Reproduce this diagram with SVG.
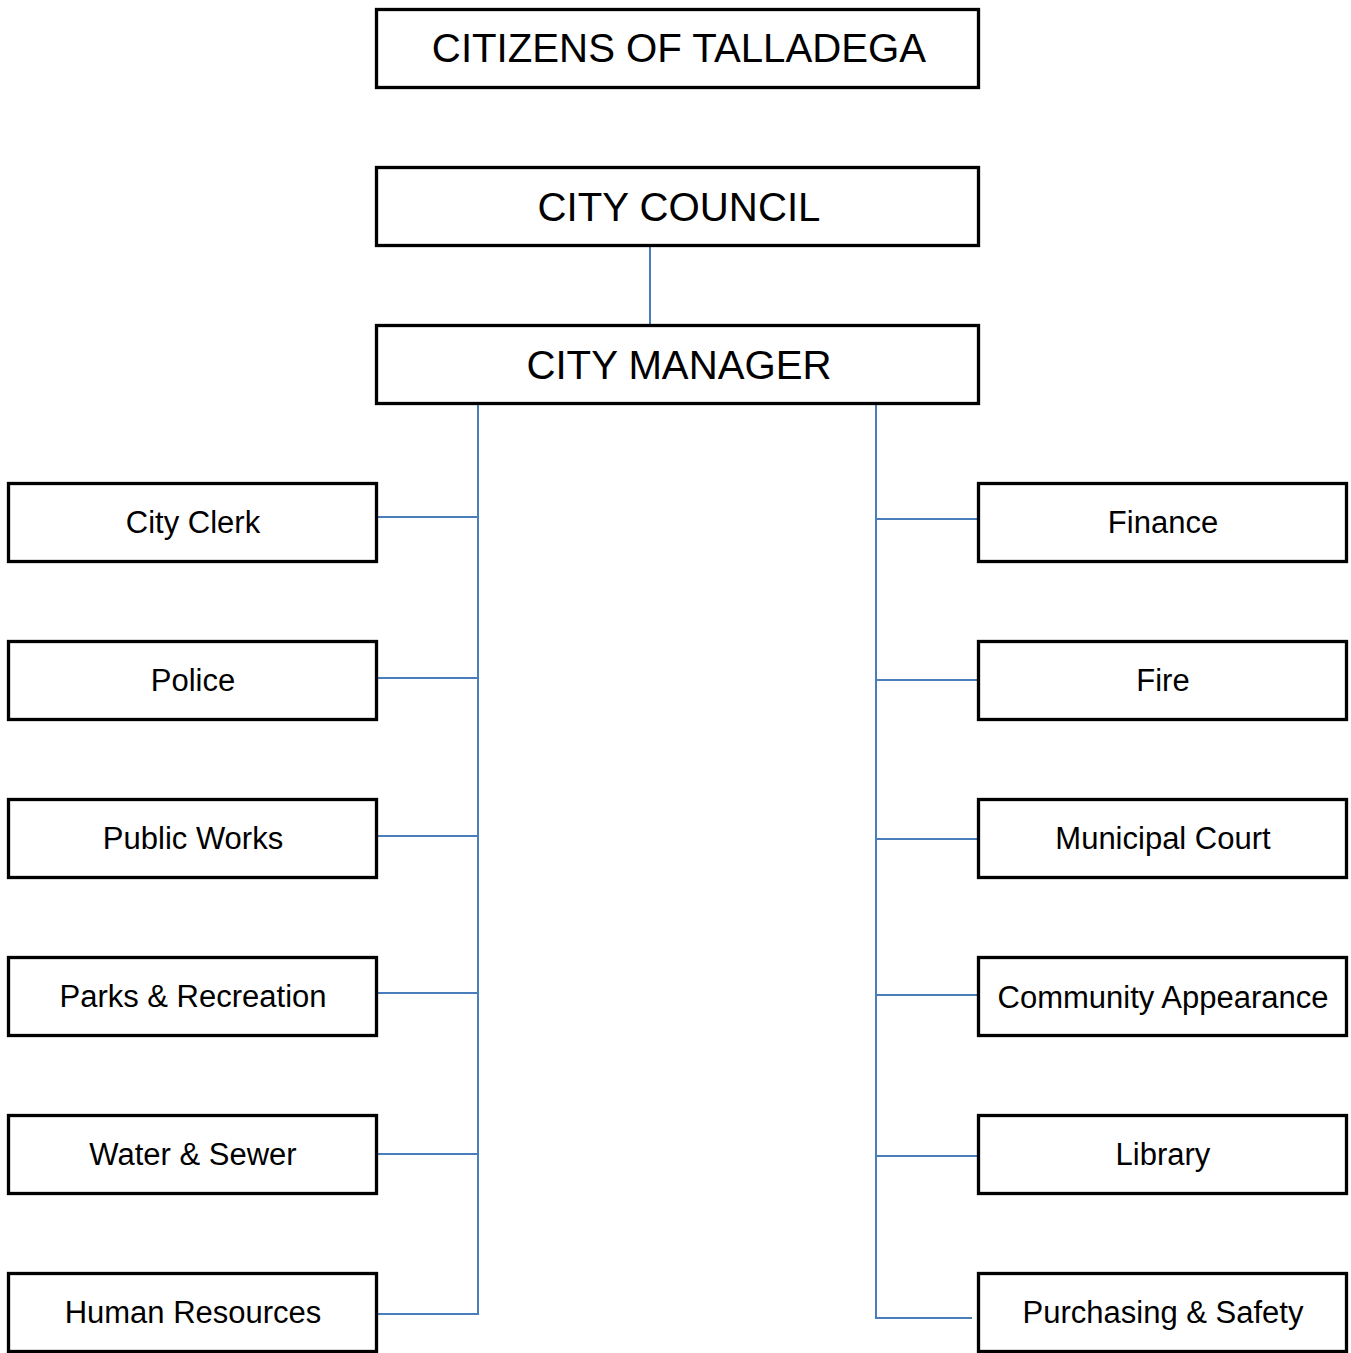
<svg xmlns="http://www.w3.org/2000/svg" width="1351" height="1353" viewBox="0 0 1351 1353">
<style>
.box{fill:#fff;stroke:#000;stroke-width:3.3}
.big{font-family:"Liberation Sans",Arial,sans-serif;font-size:40.2px;text-anchor:middle;fill:#000}
.dep{font-family:"Liberation Sans",Arial,sans-serif;font-size:31px;text-anchor:middle;fill:#000}
.con{fill:none;stroke:#4a7ebb;stroke-width:2}
</style>
<rect width="1351" height="1353" fill="#fff"/>
<g id="connectors">
<line class="con" x1="650" y1="245" x2="650" y2="324"/>
<line class="con" x1="478" y1="404" x2="478" y2="1314"/>
<line class="con" x1="377" y1="517" x2="478" y2="517"/>
<line class="con" x1="377" y1="678" x2="478" y2="678"/>
<line class="con" x1="377" y1="836" x2="478" y2="836"/>
<line class="con" x1="377" y1="993" x2="478" y2="993"/>
<line class="con" x1="377" y1="1154" x2="478" y2="1154"/>
<line class="con" x1="377" y1="1314" x2="479" y2="1314"/>
<line class="con" x1="876" y1="404" x2="876" y2="1318"/>
<line class="con" x1="876" y1="519" x2="978" y2="519"/>
<line class="con" x1="876" y1="680" x2="978" y2="680"/>
<line class="con" x1="876" y1="839" x2="978" y2="839"/>
<line class="con" x1="876" y1="995" x2="978" y2="995"/>
<line class="con" x1="876" y1="1156" x2="978" y2="1156"/>
<line class="con" x1="875" y1="1318" x2="972" y2="1318"/>
</g>
<g id="citizens"><rect class="box" x="376.5" y="9.5" width="602" height="78"/><text class="big" x="679" y="62">CITIZENS OF TALLADEGA</text></g>
<g id="council"><rect class="box" x="376.5" y="167.5" width="602" height="78"/><text class="big" x="679" y="221">CITY COUNCIL</text></g>
<g id="manager"><rect class="box" x="376.5" y="325.5" width="602" height="78"/><text class="big" x="679" y="379">CITY MANAGER</text></g>
<g id="city-clerk"><rect class="box" x="8.5" y="483.5" width="368" height="78"/><text class="dep" x="193" y="533">City Clerk</text></g>
<g id="police"><rect class="box" x="8.5" y="641.5" width="368" height="78"/><text class="dep" x="193" y="691">Police</text></g>
<g id="public-works"><rect class="box" x="8.5" y="799.5" width="368" height="78"/><text class="dep" x="193" y="849">Public Works</text></g>
<g id="parks"><rect class="box" x="8.5" y="957.5" width="368" height="78"/><text class="dep" x="193" y="1007">Parks &amp; Recreation</text></g>
<g id="water"><rect class="box" x="8.5" y="1115.5" width="368" height="78"/><text class="dep" x="193" y="1165">Water &amp; Sewer</text></g>
<g id="hr"><rect class="box" x="8.5" y="1273.5" width="368" height="78"/><text class="dep" x="193" y="1323">Human Resources</text></g>
<g id="finance"><rect class="box" x="978.5" y="483.5" width="368" height="78"/><text class="dep" x="1163" y="533">Finance</text></g>
<g id="fire"><rect class="box" x="978.5" y="641.5" width="368" height="78"/><text class="dep" x="1163" y="691">Fire</text></g>
<g id="court"><rect class="box" x="978.5" y="799.5" width="368" height="78"/><text class="dep" x="1163" y="849">Municipal Court</text></g>
<g id="appearance"><rect class="box" x="978.5" y="957.5" width="368" height="78"/><text class="dep" x="1163" y="1008">Community Appearance</text></g>
<g id="library"><rect class="box" x="978.5" y="1115.5" width="368" height="78"/><text class="dep" x="1163" y="1165">Library</text></g>
<g id="purchasing"><rect class="box" x="978.5" y="1273.5" width="368" height="78"/><text class="dep" x="1163" y="1323">Purchasing &amp; Safety</text></g>
</svg>
